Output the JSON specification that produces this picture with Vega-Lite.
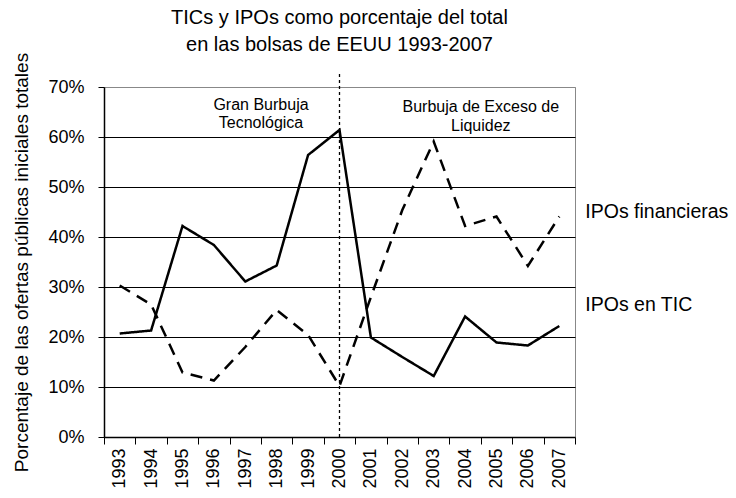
{
  "$schema": "https://vega.github.io/schema/vega-lite/v6.json",
  "autosize": "none",
  "width": 471,
  "height": 350,
  "padding": {"left": 104, "top": 87, "right": 161, "bottom": 61},
  "background": "white",
  "config": {
    "font": "Liberation Sans",
    "view": {"stroke": "#888888", "strokeWidth": 1},
    "axis": {"domainColor": "black", "tickColor": "black", "labelColor": "black", "titleColor": "black", "labelFont": "Liberation Sans", "titleFont": "Liberation Sans"}
  },
  "title": {
    "text": ["TICs y IPOs como porcentaje del total", "en las bolsas de EEUU 1993-2007"],
    "font": "Liberation Sans",
    "fontSize": 20,
    "fontWeight": "normal",
    "color": "black",
    "anchor": "middle",
    "offset": -3,
    "lineHeight": 27
  },
  "datasets": {
    "series": [
      {"year": "1993", "serie": "IPOs en TIC", "pct": 0.207},
      {"year": "1994", "serie": "IPOs en TIC", "pct": 0.213},
      {"year": "1995", "serie": "IPOs en TIC", "pct": 0.422},
      {"year": "1996", "serie": "IPOs en TIC", "pct": 0.384},
      {"year": "1997", "serie": "IPOs en TIC", "pct": 0.311},
      {"year": "1998", "serie": "IPOs en TIC", "pct": 0.343},
      {"year": "1999", "serie": "IPOs en TIC", "pct": 0.564},
      {"year": "2000", "serie": "IPOs en TIC", "pct": 0.614},
      {"year": "2001", "serie": "IPOs en TIC", "pct": 0.199},
      {"year": "2002", "serie": "IPOs en TIC", "pct": 0.160},
      {"year": "2003", "serie": "IPOs en TIC", "pct": 0.122},
      {"year": "2004", "serie": "IPOs en TIC", "pct": 0.241},
      {"year": "2005", "serie": "IPOs en TIC", "pct": 0.189},
      {"year": "2006", "serie": "IPOs en TIC", "pct": 0.183},
      {"year": "2007", "serie": "IPOs en TIC", "pct": 0.222},
      {"year": "1993", "serie": "IPOs financieras", "pct": 0.303},
      {"year": "1994", "serie": "IPOs financieras", "pct": 0.265},
      {"year": "1995", "serie": "IPOs financieras", "pct": 0.129},
      {"year": "1996", "serie": "IPOs financieras", "pct": 0.113},
      {"year": "1997", "serie": "IPOs financieras", "pct": 0.180},
      {"year": "1998", "serie": "IPOs financieras", "pct": 0.254},
      {"year": "1999", "serie": "IPOs financieras", "pct": 0.204},
      {"year": "2000", "serie": "IPOs financieras", "pct": 0.102},
      {"year": "2001", "serie": "IPOs financieras", "pct": 0.280},
      {"year": "2002", "serie": "IPOs financieras", "pct": 0.454},
      {"year": "2003", "serie": "IPOs financieras", "pct": 0.591},
      {"year": "2004", "serie": "IPOs financieras", "pct": 0.422},
      {"year": "2005", "serie": "IPOs financieras", "pct": 0.441},
      {"year": "2006", "serie": "IPOs financieras", "pct": 0.342},
      {"year": "2007", "serie": "IPOs financieras", "pct": 0.441}
    ],
    "labels": [
      {"year": "2007", "pct": 0.45, "label": "IPOs financieras"},
      {"year": "2007", "pct": 0.264, "label": "IPOs en TIC"}
    ],
    "notes": [
      {"year": "1997", "pct": 0.664, "label": "Gran Burbuja", "shift": 19},
      {"year": "1997", "pct": 0.628, "label": "Tecnológica", "shift": 19},
      {"year": "2005", "pct": 0.66, "label": "Burbuja de Exceso de", "shift": -5},
      {"year": "2005", "pct": 0.622, "label": "Liquidez", "shift": -5}
    ],
    "divider": [{"year": "2000", "top": 0.726, "bottom": 0}]
  },
  "layer": [
    {
      "data": {"name": "series"},
      "mark": {"type": "line", "color": "black", "strokeWidth": 2.5},
      "encoding": {
        "x": {
          "field": "year", "type": "ordinal", "title": null,
          "scale": {"type": "band", "paddingInner": 0, "paddingOuter": 0},
          "axis": {"labelAngle": -90, "labelAlign": "right", "labelBaseline": "middle", "labelFontSize": 18, "labelPadding": 4, "tickBand": "extent", "tickSize": 7, "domainWidth": 1.5, "labelFont": "Liberation Sans"}
        },
        "y": {
          "field": "pct", "type": "quantitative",
          "title": "Porcentaje de las ofertas públicas iniciales totales",
          "scale": {"domain": [0, 0.7], "nice": false},
          "axis": {
            "values": [0, 0.1, 0.2, 0.3, 0.4, 0.5, 0.6, 0.7],
            "format": ".0%",
            "labelFontSize": 18,
            "labelPadding": 14,
            "tickSize": 6,
            "domainWidth": 1.5,
            "titleFontSize": 19,
            "titleFontWeight": "normal",
            "titlePadding": 16,
            "grid": true,
            "gridColor": {"condition": {"test": "datum.value >= 0.69 || datum.value <= 0.01", "value": "#888888"}, "value": "black"},
            "gridOpacity": 1,
            "gridWidth": 1
          }
        },
        "strokeDash": {
          "field": "serie", "type": "nominal",
          "scale": {"domain": ["IPOs en TIC", "IPOs financieras"], "range": [[1, 0], [12, 8]]},
          "legend": null
        }
      }
    },
    {
      "data": {"name": "divider"},
      "mark": {"type": "rule", "color": "black", "strokeWidth": 1.3, "strokeDash": [3, 3], "clip": false},
      "encoding": {
        "x": {"field": "year", "type": "ordinal", "bandPosition": 0.5},
        "y": {"field": "top", "type": "quantitative"},
        "y2": {"field": "bottom"}
      }
    },
    {
      "data": {"name": "labels"},
      "mark": {"type": "text", "align": "left", "baseline": "middle", "dx": 26, "fontSize": 19.5, "font": "Liberation Sans", "color": "black", "clip": false},
      "encoding": {
        "x": {"field": "year", "type": "ordinal", "bandPosition": 0.5},
        "y": {"field": "pct", "type": "quantitative"},
        "text": {"field": "label"}
      }
    },
    {
      "data": {"name": "notes"},
      "mark": {"type": "text", "align": "center", "baseline": "middle", "fontSize": 16, "font": "Liberation Sans", "color": "black"},
      "encoding": {
        "x": {"field": "year", "type": "ordinal", "bandPosition": 0.5},
        "y": {"field": "pct", "type": "quantitative"},
        "xOffset": {"field": "shift", "type": "quantitative", "scale": {"type": "identity"}},
        "text": {"field": "label"}
      }
    }
  ]
}
